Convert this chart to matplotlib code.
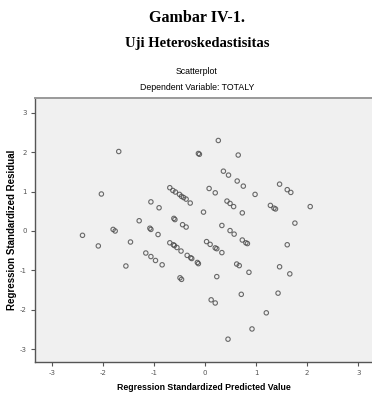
import matplotlib.pyplot as plt
import numpy as np

plt.rcParams['axes.unicode_minus'] = False

# nilai (predicted, residual)
pred = [-2.40, -2.09, -2.03, -1.69, -1.80, -1.76, -1.55, -1.46, -1.29, -1.16,
        -1.08, -1.06, -1.06, -1.06, -0.97, -0.92, -0.90, -0.84,
        -0.69, -0.63, -0.58, -0.50, -0.46, -0.42, -0.37, -0.29,
        -0.61, -0.59, -0.44, -0.37,
        -0.69, -0.62, -0.60, -0.55, -0.47, -0.35, -0.28, -0.26, -0.15, -0.13,
        -0.49, -0.46, -0.13, -0.11, -0.03, 0.08, 0.20, 0.26, 0.36, 0.46,
        0.63, 0.75, 0.65, 0.98, 0.43, 0.49, 0.56, 0.73, 0.33, 0.49,
        0.57, 0.03, 0.10, 0.20, 0.23, 0.33, 0.73, 0.80, 0.83, 0.62,
        0.67, 0.86, 0.23, 0.71, 0.12, 0.20, 0.92, 0.45, 1.20, 1.43,
        1.46, 1.66, 1.61, 1.76, 1.28, 1.35, 1.38, 1.46, 1.61, 1.68, 2.06]
resid = [-0.11, -0.38, 0.94, 2.02, 0.04, 0.00, -0.89, -0.28, 0.26, -0.56,
         0.07, 0.04, 0.74, -0.65, -0.75, -0.09, 0.59, -0.86,
         1.10, 1.03, 0.99, 0.93, 0.88, 0.85, 0.81, 0.71,
         0.32, 0.29, 0.16, 0.10,
         -0.30, -0.35, -0.37, -0.42, -0.51, -0.62, -0.68, -0.70, -0.80, -0.83,
         -1.19, -1.23, 1.97, 1.95, 0.48, 1.08, 0.97, 2.30, 1.52, 1.42,
         1.27, 1.14, 1.93, 0.93, 0.76, 0.70, 0.62, 0.46, 0.14, 0.01,
         -0.08, -0.27, -0.34, -0.43, -0.45, -0.55, -0.23, -0.30, -0.32, -0.84,
         -0.88, -1.05, -1.16, -1.61, -1.75, -1.83, -2.49, -2.75, -2.08, -1.58,
         -0.91, -1.09, -0.35, 0.20, 0.65, 0.58, 0.56, 1.19, 1.05, 0.98, 0.62]
ticks = [-3, -2, -1, 0, 1, 2, 3]

fig = plt.figure(figsize=(3.72, 3.95), dpi=100)
W, H = 372, 395
ax = fig.add_axes([35 / W, 1 - 362 / H, (372 - 35) / W, (362 - 98) / H])
ax.set_facecolor('#f0f0f0')

ax.scatter(pred, resid, s=10, facecolors='none', edgecolors='#505050',
           linewidths=0.8, alpha=0.85, zorder=3)

ax.set_xlim(-3.33, 3.27)
ax.set_ylim(-3.33, 3.38)
ax.set_xticks(ticks)
ax.set_yticks(ticks)
ax.tick_params(direction='out', length=3, width=0.8, colors='#555555',
               labelsize=5, pad=3)

for side in ['left', 'bottom']:
    ax.spines[side].set_color('#555555')
    ax.spines[side].set_linewidth(1.0)
ax.spines['top'].set_color('#999999')
ax.spines['top'].set_linewidth(1.4)
ax.spines['right'].set_visible(False)

ax.set_xlabel('Regression Standardized Predicted Value', fontsize=6.3,
              fontweight='bold', family='Liberation Sans')
ax.set_ylabel('Regression Standardized Residual', fontsize=7,
              fontweight='bold', family='Liberation Sans')
ax.xaxis.set_label_coords(0.5, -0.08)
ax.yaxis.set_label_coords(-0.053, 0.5)

# judul
fig.text(197 / W, 1 - 18 / H, 'Gambar IV-1.', ha='center', va='center',
         fontsize=11.5, fontweight='bold', family='Liberation Serif')
fig.text(197 / W, 1 - 44 / H, 'Uji Heteroskedastisitas', ha='center', va='center',
         fontsize=10.5, fontweight='bold', family='Liberation Serif')
fig.text(197 / W, 1 - 72 / H, 'Scatterplot', ha='center', va='center',
         fontsize=6.3, family='Liberation Sans')
fig.text(197 / W, 1 - 88 / H, 'Dependent Variable: TOTALY', ha='center', va='center',
         fontsize=6.3, family='Liberation Sans')

fig.savefig('out.png', dpi=100)
